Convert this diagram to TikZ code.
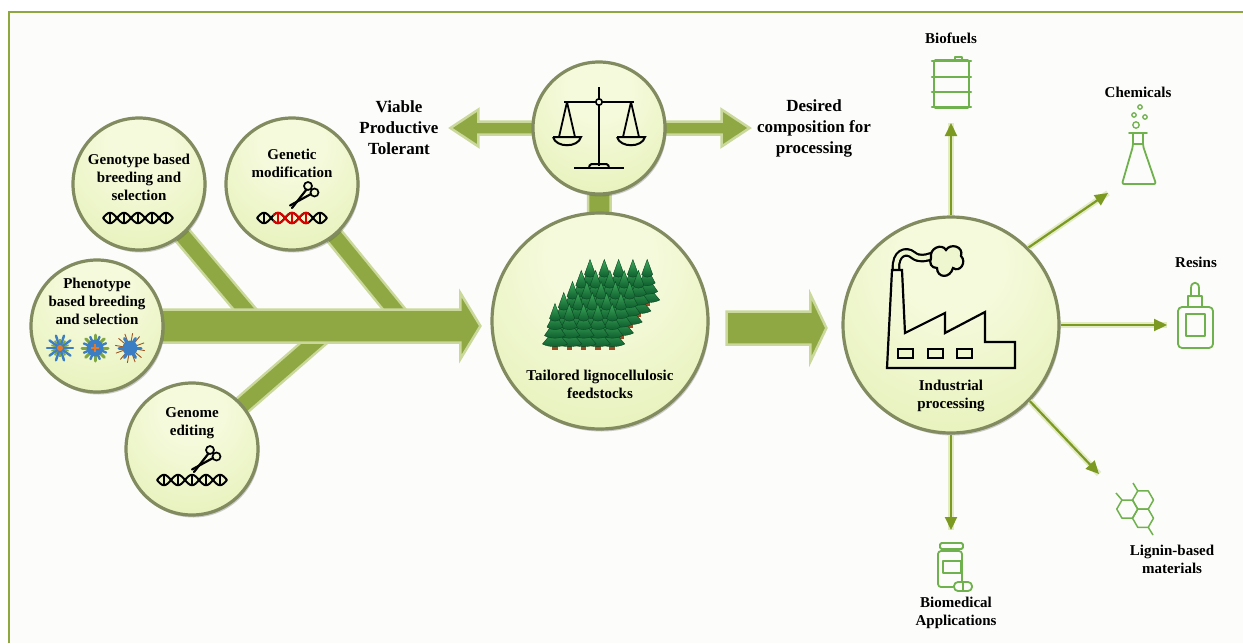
\documentclass[tikz,border=0pt]{standalone}
\usepackage{fontspec}
\setmainfont{Liberation Serif}
\usetikzlibrary{calc,shadows,arrows.meta}

\definecolor{frameGreen}{HTML}{8EA83F}
\definecolor{paper}{HTML}{FCFCFA}
\definecolor{bubIn}{HTML}{F5FADC}
\definecolor{bubMid}{HTML}{E4F0B4}
\definecolor{bubOut}{HTML}{CDE08C}
\definecolor{rimCol}{HTML}{818B5F}
\definecolor{bandCol}{HTML}{8FA843}
\definecolor{bandEdge}{HTML}{CAD99B}
\definecolor{arrowCol}{HTML}{7C9A22}
\definecolor{glowCol}{HTML}{E2EBC4}
\definecolor{iconGreen}{HTML}{6FB14C}
\definecolor{treeDark}{HTML}{0D5A2B}
\definecolor{treeLight}{HTML}{3DAA5C}
\definecolor{trunkCol}{HTML}{9A4B26}
\definecolor{petalBlue}{HTML}{3C7EC3}
\definecolor{leafGreen}{HTML}{7FA640}
\definecolor{orangeC}{HTML}{E6782A}
\definecolor{smokeFill}{HTML}{EEF6D0}

\pgfdeclareradialshading{bubbleshade}{\pgfpoint{0bp}{18bp}}{%
  color(0bp)=(bubIn); color(12bp)=(bubIn); color(42bp)=(bubMid); color(72bp)=(bubOut)}

\pgfdeclarelayer{back}
\pgfdeclarelayer{bands}
\pgfsetlayers{back,bands,main}

% wide band with an arrow head: start, tip, half band, half head, signed head length
\newcommand\fatarrow[5]{%
  \path[fatband] let \p1=(#1), \p2=(#2) in
    (\x1,{\y1+#3pt}) -- ({\x2-(#5pt)},{\y1+#3pt}) -- ({\x2-(#5pt)},{\y1+#4pt}) -- (\x2,\y1)
    -- ({\x2-(#5pt)},{\y1-#4pt}) -- ({\x2-(#5pt)},{\y1-#3pt}) -- (\x1,{\y1-#3pt}) -- cycle;}

\tikzset{
  bubble/.style={circle, minimum size=#1, inner sep=0pt, shade, shading=bubbleshade,
    draw=rimCol, line width=3.2pt,
    drop shadow={shadow xshift=1.5pt, shadow yshift=-2.5pt, opacity=0.28, fill=black!70}},
  ctext/.style={font=\bfseries\fontsize{15}{18}\selectfont, align=center, inner sep=0pt},
  btext/.style={font=\bfseries\fontsize{17}{21}\selectfont, align=center, inner sep=0pt},
  fatband/.style={fill=bandCol, draw=bandEdge, line width=2.5pt, line join=miter},
  bandhalo/.style={draw=bandEdge, line width=#1},
  bandline/.style={draw=bandCol, line width=#1},
  thinarr/.style={draw=arrowCol, line width=2.2pt, -{Triangle[length=13pt,width=12pt]},
    preaction={draw=glowCol, line width=6pt, -}},
  icon/.style={draw=iconGreen, line width=1.8pt, line join=round},
  blackicon/.style={draw=black, line width=2.2pt, line join=miter},
  treeTier/.style={top color=treeLight, bottom color=treeDark, draw=treeDark!80!black, line width=0.4pt},
  conifer/.pic={
    \fill[trunkCol] (-2.8,0) rectangle (2.8,-8);
    \foreach \i/\w in {0/12.5,1/10.5,2/8,3/5.5}{
      \path[treeTier] ({-\w},{-6-8.5*\i}) -- (0,{-21-8.5*\i}) -- (\w,{-6-8.5*\i})
        .. controls ({0.5*\w},{-2.5-8.5*\i}) and ({-0.5*\w},{-2.5-8.5*\i}) .. cycle;
    }
  },
  dna/.pic={
    \draw[line width=2pt] plot[domain=-35:35, samples=71, smooth] (\x,{5.2*cos(\x*180/14)});
    \draw[line width=2pt] plot[domain=-35:35, samples=71, smooth] (\x,{-5.2*cos(\x*180/14)});
    \foreach \u in {-28,-14,0,14,28} \draw[line width=2pt] (\u,-4.8) -- (\u,4.8);
  },
  scissors/.pic={
    \draw[line width=1.7pt] (6,-11) circle (4) (12.5,-4.5) circle (4);
    \draw[line width=2.2pt, line cap=round] (4.5,-7.5) -- (-10,11);
    \draw[line width=2.2pt, line cap=round] (9,-3) -- (-12,8.5);
  },
}

\begin{document}
\begin{tikzpicture}[x=1pt,y=-1pt]
\useasboundingbox (0,0) rectangle (1243,643);

% page and frame
\begin{pgfonlayer}{back}
  \fill[paper] (9,12) rectangle (1243,643);
  \draw[frameGreen, line width=2.5pt] (9,643) -- (9,12) -- (1243,12);
\end{pgfonlayer}

% circles
\node[bubble=132pt] (geno)   at (139,184) {};
\node[bubble=132pt] (gen)    at (292,184) {};
\node[bubble=132pt] (pheno)  at (97,326)  {};
\node[bubble=132pt] (genome) at (192,449) {};
\node[bubble=132pt] (bal)    at (599,128) {};
\node[bubble=216pt] (tail)   at (600,321) {};
\node[bubble=216pt] (ind)    at (951,325) {};

% band end points
\coordinate (genoJ)   at (254,320);
\coordinate (genJ)    at (403,320);
\coordinate (genomeJ) at (323,335);
\coordinate (bigTip)  at ($(tail.west)+(-10,5)$);
\coordinate (midS)    at ($(tail.east)+(17,7)$);
\coordinate (midTip)  at ($(ind.west)+(-15,3)$);
\coordinate (balL)    at ($(bal.west)+(-81,0)$);
\coordinate (balR)    at ($(bal.east)+(83,0)$);

\begin{pgfonlayer}{bands}
  \draw[bandhalo=20pt] (geno.center) -- (genoJ);
  \draw[bandhalo=20pt] (gen.center) -- (genJ);
  \draw[bandhalo=20pt] (genome.center) -- (genomeJ);
  \draw[bandhalo=25pt] (bal.center) -- (tail.center);
  \draw[bandline=15pt] (geno.center) -- (genoJ);
  \draw[bandline=15pt] (gen.center) -- (genJ);
  \draw[bandline=15pt] (genome.center) -- (genomeJ);
  \draw[bandline=20pt] (bal.center) -- (tail.center);
  \fatarrow{pheno.center}{bigTip}{16.5}{33}{20}
  \fatarrow{midS}{midTip}{16.5}{33.5}{16}
  \fatarrow{bal.center}{balL}{6.5}{18.5}{-28}
  \fatarrow{bal.center}{balR}{6.5}{18.5}{28}
\end{pgfonlayer}

% circle texts
\node[ctext] (tGeno)   at (139,177) {Genotype based\\breeding and\\selection};
\node[ctext] (tGen)    at (292,163) {Genetic\\modification};
\node[ctext] (tPheno)  at (97,301)  {Phenotype\\based breeding\\and selection};
\node[ctext] (tGenome) at (192,423) {Genome\\editing};
\node[ctext] (tTail)   at (600,384) {Tailored lignocellulosic\\feedstocks};
\node[ctext] (tInd)    at (951,396) {Industrial\\processing};
\node[btext] (tViable) at (399,128) {Viable\\Productive\\Tolerant};
\node[btext] (tDesired) at (814,128) {Desired\\composition for\\processing};

% DNA and scissors
\pic at (138,218) {dna};
\pic at (292,218) {dna};
\begin{scope}
  \clip (273,205) rectangle (309,232);
  \pic[color=red!85!black] at (292,218) {dna};
\end{scope}
\pic at (192,480) {dna};
\pic at (302,197) {scissors};
\pic at (204,461) {scissors};

% phenotype flowers
\foreach \a in {18,54,...,342} \draw[leafGreen, line width=1.6pt] (60,348) -- ++(\a:9);
\foreach \a in {0,36,...,324} \draw[petalBlue, line width=2.4pt, line cap=round] (60,348) -- ++(\a:13);
\fill[orangeC] (60,348) circle (3);
\foreach \a in {0,45,...,315} \draw[leafGreen, line width=3pt, line cap=round] (95,348) -- ++(\a:13);
\fill[petalBlue] (95,348) circle (8.5);
\foreach \a in {22,67,...,337} \draw[petalBlue, line width=2.4pt, line cap=round] (95,348) -- ++(\a:12);
\draw[orangeC, line width=2.2pt] (91,348) -- (99,348) (95,344) -- (95,352);
\foreach \a in {10,40,...,340} \draw[orangeC!70!black, line width=0.9pt] (130,348) -- ++(\a:15);
\fill[petalBlue] (130,348) circle (7.5);
\foreach \a in {0,60,...,300} \draw[petalBlue, line width=3pt, line cap=round] (130,348) -- ++(\a:11);

% trees
\foreach \r in {4,3,2,1,0}{
  \foreach \c in {4,3,2,1,0}{
    \pic at ({555+14.3*\c+8.75*\r},{350-11*\r}) {conifer};
  }
}

% balance
\draw[black, line width=2pt] (599,87) -- (599,166);
\draw[black, line width=2pt] (564,102) -- (634,102);
\draw[black, line width=1.6pt, fill=bubIn] (599,102) circle (3.2);
\draw[black, line width=1.8pt, line join=round]
  (559,137) -- (567,102) -- (575,137)
  (623,137) -- (631,102) -- (639,137);
\draw[black, line width=2pt] (553,137) -- (581,137) .. controls (578,148) and (556,148) .. (553,137);
\draw[black, line width=2pt] (617,137) -- (645,137) .. controls (642,148) and (620,148) .. (617,137);
\draw[black, line width=2pt] (574,168) -- (624,168);
\draw[black, line width=2pt, rounded corners=1.5] (589,168) -- (590,164) -- (608,164) -- (609,168);

% factory
\draw[black, line width=2.2pt, double=smokeFill, double distance=4.2pt]
  (896,269) .. controls (895,253) and (906,249) .. (913,255) .. controls (919,260) and (926,258) .. (932,256);
\draw[black, line width=2.2pt, fill=smokeFill]
  (931,258) .. controls (929,248) and (942,243) .. (946,250)
  .. controls (950,243) and (964,246) .. (961,256)
  .. controls (967,262) and (960,273) .. (953,268)
  .. controls (950,279) and (937,278) .. (937,268)
  .. controls (931,268) and (929,263) .. (931,258) -- cycle;
\draw[blackicon] (892,270) -- (902,270) -- (905,333) -- (945,313) -- (945,333) -- (985,312)
  -- (985,342) -- (1015,342) -- (1015,368) -- (887,368) -- cycle;
\draw[blackicon] (898,349) rectangle (913,358) (928,349) rectangle (943,358) (957,349) rectangle (972,358);

% outputs
\coordinate (fuelTip)  at (951,123);
\coordinate (chemTip)  at (1108,193);
\coordinate (resinTip) at (1167,325);
\coordinate (ligTip)   at (1099,474);
\coordinate (bioTip)   at (951,530);
\draw[thinarr] (ind.north) -- (fuelTip);
\draw[thinarr] (ind.45) -- (chemTip);
\draw[thinarr] (ind.east) -- (resinTip);
\draw[thinarr] (ind.-44) -- (ligTip);
\draw[thinarr] (ind.south) -- (bioTip);

\node[ctext] (tFuel)   at (951,38)   {Biofuels};
\node[ctext] (tChem)   at (1138,92)  {Chemicals};
\node[ctext] (tResin)  at (1196,262) {Resins};
\node[ctext] (tLignin) at (1172,559) {Lignin-based\\materials};
\node[ctext] (tBiomed) at (956,613)  {Biomedical\\Applications};

% barrel
\draw[icon, rounded corners=1.5] (934,60) rectangle (969,108);
\draw[icon, line width=2.4pt, line cap=round]
  (932,61) -- (971,61) (932,77) -- (971,77) (932,92) -- (971,92) (932,107) -- (971,107);
\draw[icon] (955,60) -- (955,57) -- (962,57) -- (962,60);

% flask
\draw[icon, rounded corners=2] (1133,133) -- (1133,146) -- (1122,184) -- (1156,184) -- (1143,146) -- (1143,133);
\draw[icon, line cap=round] (1129,133) -- (1147,133) (1133,144) -- (1143,144);
\draw[icon, line width=1.3pt] (1136,125) circle (3.2) (1134,115) circle (2.2) (1145,117) circle (2.2) (1140,107) circle (2.2);

% glue bottle
\draw[icon, rounded corners=4] (1178,307) rectangle (1213,348);
\draw[icon] (1188,307) -- (1188,296) -- (1202,296) -- (1202,307);
\draw[icon] (1191,296) -- (1191,288) .. controls (1191,281) and (1199,281) .. (1199,288) -- (1199,296);
\draw[icon] (1186,314) rectangle (1205,336);

% lignin rings
\foreach \cx/\cy in {1143/500, 1143/518.2, 1127.25/509.1}
  \draw[icon, line width=1.5pt] (\cx-10.5,\cy) -- (\cx-5.25,\cy-9.1) -- (\cx+5.25,\cy-9.1)
    -- (\cx+10.5,\cy) -- (\cx+5.25,\cy+9.1) -- (\cx-5.25,\cy+9.1) -- cycle;
\draw[icon, line width=1.5pt] (1137.75,490.9) -- (1133,483) (1122,500) -- (1116,493) (1148.25,527.3) -- (1153,535);

% pill bottle
\draw[icon, rounded corners=1.5] (940,543) rectangle (963,549);
\draw[icon, rounded corners=3] (962,581) -- (962,551) -- (938,551) -- (938,587) -- (953,587);
\draw[icon] (943,561) rectangle (961,573);
\draw[icon, rounded corners=4] (954,582) rectangle (972,591);
\draw[icon] (963,582) -- (963,591);
\end{tikzpicture}
\end{document}
